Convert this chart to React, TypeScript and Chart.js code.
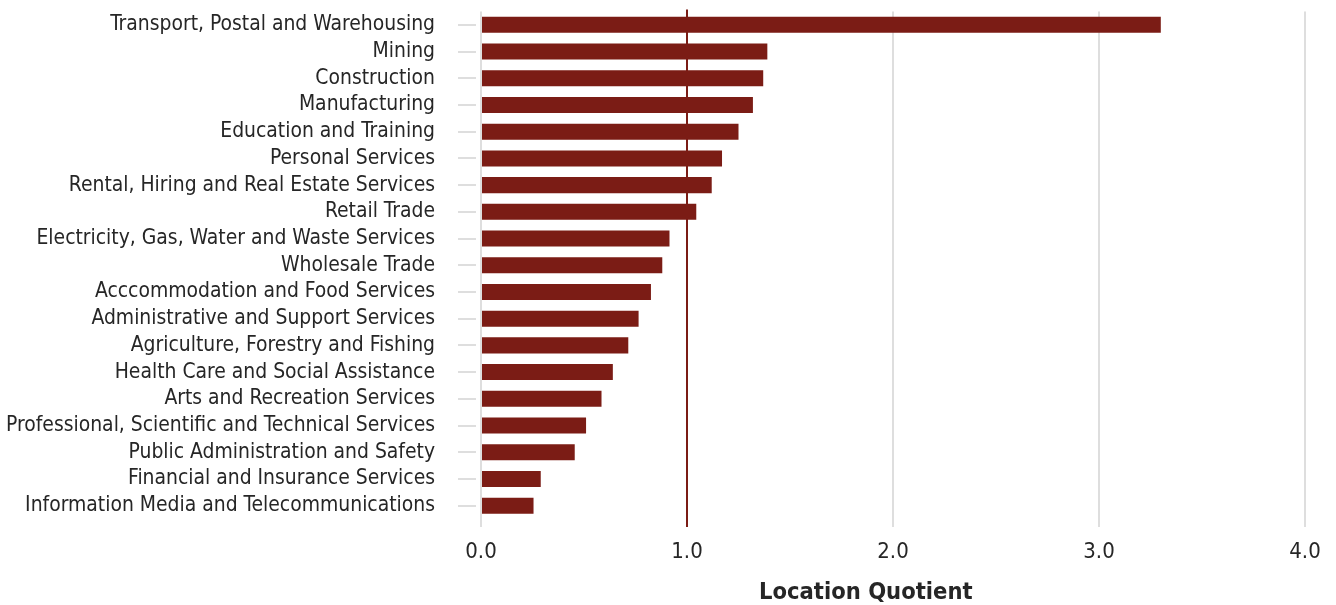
import React, { useEffect, useRef } from "react";
import { Chart, registerables } from "chart.js";

Chart.register(...registerables);

const categories: string[] = [
  "Transport, Postal and Warehousing",
  "Mining",
  "Construction",
  "Manufacturing",
  "Education and Training",
  "Personal Services",
  "Rental, Hiring and Real Estate Services",
  "Retail Trade",
  "Electricity, Gas, Water and Waste Services",
  "Wholesale Trade",
  "Acccommodation and Food Services",
  "Administrative and Support Services",
  "Agriculture, Forestry and Fishing",
  "Health Care and Social Assistance",
  "Arts and Recreation Services",
  "Professional, Scientific and Technical Services",
  "Public Administration and Safety",
  "Financial and Insurance Services",
  "Information Media and Telecommunications",
];

const locationQuotient: number[] = [
  3.3, 1.39, 1.37, 1.32, 1.25, 1.17, 1.12, 1.045, 0.915, 0.88, 0.825, 0.765, 0.715,
  0.64, 0.585, 0.51, 0.455, 0.29, 0.255,
];

const xTicks: number[] = [0, 1, 2, 3, 4];
const referenceValue = 1;
const axisTitle = "Location Quotient";

const FONT = "'DejaVu Sans Condensed', 'DejaVu Sans', sans-serif";
const BAR = "#7b1c15";
const GRID = "#dedede";
const TEXT = "#262626";

const overlay = {
  id: "overlay",
  beforeDatasetsDraw(chart: any) {
    const { ctx, chartArea, scales } = chart;
    const x = scales.x;
    const y = scales.y;
    ctx.save();
    // category tick marks
    ctx.strokeStyle = GRID;
    ctx.lineWidth = 2;
    categories.forEach((_, i) => {
      const py = Math.round(y.getPixelForValue(i));
      ctx.beginPath();
      ctx.moveTo(chartArea.left - 23, py);
      ctx.lineTo(chartArea.left - 5, py);
      ctx.stroke();
    });
    // reference line
    const rx = Math.round(x.getPixelForValue(referenceValue));
    ctx.strokeStyle = BAR;
    ctx.lineWidth = 2;
    ctx.beginPath();
    ctx.moveTo(rx, chartArea.top - 2);
    ctx.lineTo(rx, chartArea.bottom + 8);
    ctx.stroke();
    ctx.restore();
  },
  afterDraw(chart: any) {
    const { ctx, chartArea } = chart;
    ctx.save();
    ctx.fillStyle = TEXT;
    ctx.font = `bold 23.5px ${FONT}`;
    ctx.textAlign = "center";
    ctx.textBaseline = "middle";
    const cx = chartArea.left + (chartArea.right - chartArea.left) * 0.467;
    ctx.fillText(axisTitle, cx, 593);
    ctx.restore();
  },
};

export default function App() {
  const ref = useRef<HTMLCanvasElement | null>(null);
  useEffect(() => {
    document.body.style.margin = "0";
    if (!ref.current) return;
    const chart = new Chart(ref.current, {
      type: "bar",
      data: {
        labels: categories,
        datasets: [
          {
            data: locationQuotient,
            backgroundColor: BAR,
            borderWidth: 0,
            categoryPercentage: 1,
            barPercentage: 0.6,
          },
        ],
      },
      options: {
        indexAxis: "y",
        animation: false,
        responsive: true,
        maintainAspectRatio: false,
        layout: { padding: { top: 11.5, right: 31, left: 0, bottom: 0 } },
        plugins: { legend: { display: false }, tooltip: { enabled: false } },
        scales: {
          x: {
            min: 0,
            max: 4,
            afterBuildTicks: (s: any) => {
              s.ticks = xTicks.map((v) => ({ value: v }));
            },
            grid: { color: GRID, lineWidth: 2, tickLength: 8 },
            border: { display: false },
            ticks: {
              color: TEXT,
              font: { family: FONT, size: 22 },
              padding: 12,
              callback: (v: any) => Number(v).toFixed(1),
            },
            afterFit: (s: any) => {
              s.height = 86;
              s.paddingLeft = 0;
              s.paddingRight = 0;
            },
          },
          y: {
            grid: { display: false, drawTicks: false },
            border: { display: false },
            ticks: {
              color: TEXT,
              font: { family: FONT, size: 20.9 },
              padding: 46,
              autoSkip: false,
            },
            afterFit: (s: any) => {
              s.width = 481;
              s.paddingTop = 0;
              s.paddingBottom = 0;
            },
          },
        },
      },
      plugins: [overlay],
    });
    return () => chart.destroy();
  }, []);
  return (
    <div style={{ width: 1336, height: 605, position: "relative" }}>
      <canvas ref={ref} />
    </div>
  );
}
